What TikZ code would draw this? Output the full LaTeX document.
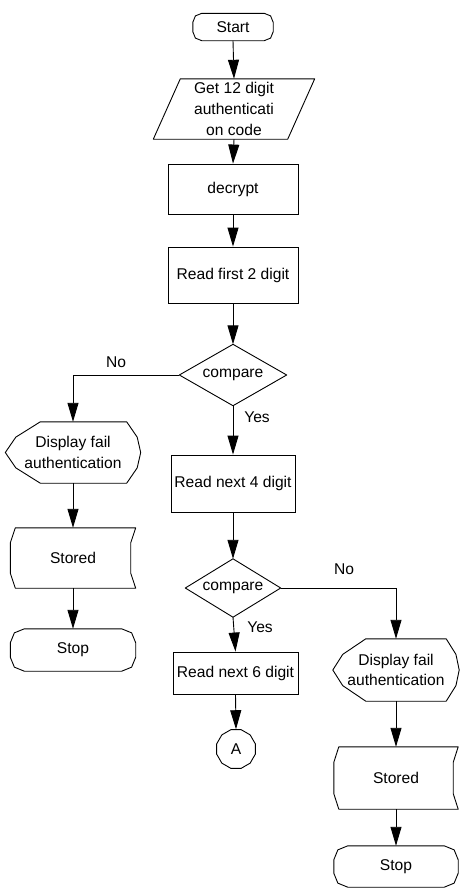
\documentclass[tikz,border=0pt]{standalone}
\usepackage{fontspec}
\setmainfont{Liberation Sans}
\usetikzlibrary{arrows.meta,calc,shapes.geometric}
\newcommand\myfont{\fontsize{15.6}{20.6}\selectfont}
% outline helpers (node name, sizes)
\newcommand\drawTerminal[2]{%
  \draw[shapeline] let \p1=(#1.north west), \p2=(#1.south east) in
  (\x1+#2,\y1) -- (\x2-#2,\y1) -- (\x2-0.29*#2,\y1-0.29*#2) -- (\x2,\y1-#2)
  -- (\x2,\y2+#2) -- (\x2-0.29*#2,\y2+0.29*#2) -- (\x2-#2,\y2)
  -- (\x1+#2,\y2) -- (\x1+0.29*#2,\y2+0.29*#2) -- (\x1,\y2+#2)
  -- (\x1,\y1-#2) -- (\x1+0.29*#2,\y1-0.29*#2) -- cycle;}
\newcommand\drawDisplay[3]{%
  \draw[shapeline] let \p1=(#1.north west), \p2=(#1.south east),
    \p3=($(#1.north west)!0.25!(#1.south west)$),
    \p4=($(#1.north west)!0.75!(#1.south west)$),
    \p5=(#1.center) in
  (\x1+#2,\y1) -- (\x2-#3,\y1) -- (\x2-0.25*#3,\y3) -- (\x2,\y5)
  -- (\x2-0.25*#3,\y4) -- (\x2-#3,\y2) -- (\x1+#2,\y2)
  -- (\x1+0.3*#2,\y4) -- (\x1,\y5) -- (\x1+0.3*#2,\y3) -- cycle;}
\newcommand\drawStored[2]{%
  \draw[shapeline] let \p1=(#1.north west), \p2=(#1.south east),
    \p3=($(#1.north west)!0.25!(#1.south west)$),
    \p4=($(#1.north west)!0.75!(#1.south west)$) in
  (\x1+#2,\y1) -- (\x2,\y1) -- (\x2-#2,\y3) -- (\x2-#2,\y4) -- (\x2,\y2)
  -- (\x1+#2,\y2) -- (\x1,\y4) -- (\x1,\y3) -- cycle;}
\newcommand\drawPara[2]{%
  \draw[shapeline] let \p1=(#1.north west), \p2=(#1.south east) in
  (\x1+#2,\y1) -- (\x2,\y1) -- (\x2-#2,\y2) -- (\x1,\y2) -- cycle;}
\newcommand\drawDiam[1]{%
  \draw[shapeline] (#1.north) -- (#1.east) -- (#1.south) -- (#1.west) -- cycle;}
\begin{document}
\begin{tikzpicture}[x=1pt,y=-1pt,
  shapeline/.style={draw=black,line width=0.9pt,line join=round},
  base/.style={rectangle,draw=none,inner sep=0pt,font=\myfont,align=center},
  procbox/.style={base,draw=black,line width=0.9pt},
  conn/.style={regular polygon,regular polygon sides=12,draw=black,line width=0.9pt,
    minimum size=40pt,inner sep=0pt,font=\myfont},
  lbl/.style={font=\myfont,inner sep=0pt},
  arr/.style={draw=black,line width=0.9pt,-{Triangle[length=19pt,width=11pt]}}]
\useasboundingbox (0,0) rectangle (459,889);
% main column
\node[base,minimum width=80pt,minimum height=27pt] (start) at (233,27) {Start};
\node[base,minimum width=161pt,minimum height=60pt] (get) at (234,109) {Get 12 digit\\authenticati\\on code};
\node[procbox,minimum width=130pt,minimum height=50pt] (dec) at (233,189) {decrypt};
\node[procbox,minimum width=130pt,minimum height=56pt] (rf2) at (233,275) {Read first 2 digit};
\node[base,minimum width=107pt,minimum height=61pt] (c1) at (233,375) {compare};
\node[procbox,minimum width=124pt,minimum height=57pt] (rn4) at (233,483.5) {Read next 4 digit};
\node[base,minimum width=95pt,minimum height=58pt] (c2) at (233,588) {compare};
\node[procbox,minimum width=125pt,minimum height=42pt] (rn6) at (235.5,673) {Read next 6 digit};
\node[conn] (A) at (236,749) {A};
% left column
\node[base,minimum width=135pt,minimum height=61pt] (d1) at (73,452.5) {Display fail\\authentication};
\node[base,minimum width=125pt,minimum height=60pt] (s1) at (73,558) {Stored};
\node[base,minimum width=125pt,minimum height=42pt] (t1) at (73,650) {Stop};
% right column
\node[base,minimum width=126pt,minimum height=62pt] (d2) at (396,670) {Display fail\\authentication};
\node[base,minimum width=124pt,minimum height=62pt] (s2) at (396,778) {Stored};
\node[base,minimum width=124pt,minimum height=41pt] (t2) at (396,866.5) {Stop};
% outlines
\drawTerminal{start}{9pt}
\drawPara{get}{27pt}
\drawDiam{c1}
\drawDiam{c2}
\drawDisplay{d1}{35pt}{14pt}
\drawStored{s1}{5pt}
\drawTerminal{t1}{14pt}
\drawDisplay{d2}{33pt}{13pt}
\drawStored{s2}{5pt}
\drawTerminal{t2}{14pt}
% connectors
\draw[arr] (start.south) -- (get.north);
\draw[arr] (get.south) -- (dec.north);
\draw[arr] (dec.south) -- (rf2.north);
\draw[arr] (rf2.south) -- (c1.north);
\draw[arr] (c1.south) -- (rn4.north);
\draw[arr] (c1.west) -| (d1.north);
\draw[arr] (d1.south) -- (s1.north);
\draw[arr] (s1.south) -- (t1.north);
\draw[arr] (rn4.south) -- (c2.north);
\draw[arr] (c2.south) -- (rn6.north);
\draw[arr] (rn6.south) -- (A.north);
\draw[arr] (c2.east) -| (d2.north);
\draw[arr] (d2.south) -- (s2.north);
\draw[arr] (s2.south) -- (t2.north);
% labels
\node[lbl] (no1) at (116,362) {No};
\node[lbl] (yes1) at (257,417) {Yes};
\node[lbl] (no2) at (344,569) {No};
\node[lbl] (yes2) at (260,627) {Yes};
\end{tikzpicture}
\end{document}
